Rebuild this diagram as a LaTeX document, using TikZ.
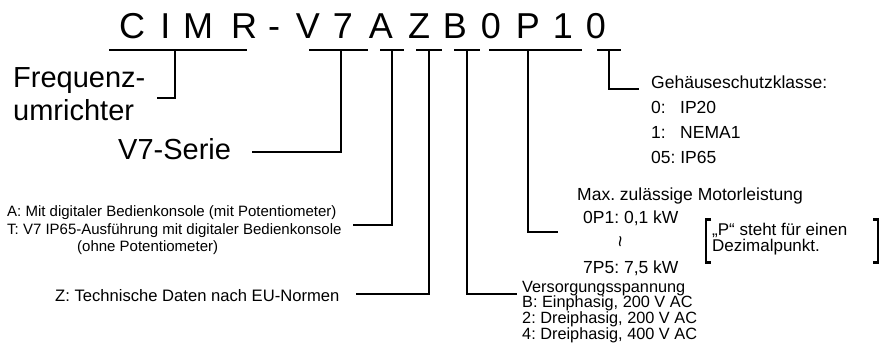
\documentclass[tikz,border=0pt]{standalone}
\usepackage{fontspec}
\setmainfont{Liberation Sans}
\frenchspacing
\begin{document}
\begin{tikzpicture}[x=1pt,y=-1pt,
  conn/.style={line width=2pt, line cap=rect, line join=miter},
  bar/.style={line width=2pt},
  code/.style={inner sep=0pt, anchor=base, font=\fontsize{36}{38}\selectfont},
  big/.style={inner sep=0pt, anchor=base west, font=\fontsize{29}{31}\selectfont},
  mid/.style={inner sep=0pt, anchor=base west, font=\fontsize{17.5}{19}\selectfont},
  sml/.style={inner sep=0pt, anchor=base west, font=\fontsize{15}{17}\selectfont},
  vs/.style={inner sep=0pt, anchor=base west, font=\fontsize{16.3}{18}\selectfont},
  brk/.style={line width=2.6pt, line join=miter}]
\useasboundingbox (0,0) rectangle (887,351);
% code letters
\foreach \c/\x [count=\i] in {C/132,I/165.5,M/198,R/244,-/274,V/308,7/343,A/381,Z/419,B/455,0/491,P/528,1/563,0/596}
  \node[code] (L\i) at (\x,38.5) {\c};
% underline segments
\coordinate (u1a) at (109,50); \coordinate (u1b) at (247,50);
\coordinate (u2a) at (309,50); \coordinate (u2b) at (368,50);
\coordinate (u3a) at (380,50); \coordinate (u3b) at (404,50);
\coordinate (u4a) at (416,50); \coordinate (u4b) at (442,50);
\coordinate (u5a) at (454,50); \coordinate (u5b) at (480,50);
\coordinate (u6a) at (489,50); \coordinate (u6b) at (582,50);
\coordinate (u7a) at (597,50); \coordinate (u7b) at (621,50);
\foreach \k in {1,...,7} \draw[bar] (u\k a) -- (u\k b);
% branch points
\coordinate (b1) at (175,50);
\coordinate (b2) at (341,50);
\coordinate (b3) at (392,50);
\coordinate (b4) at (429,50);
\coordinate (b5) at (467,50);
\coordinate (b6) at (528,50);
\coordinate (b7) at (609,50);
% connector ends
\coordinate (e1) at (158,98);
\coordinate (e2) at (253,152);
\coordinate (e3) at (354,225);
\coordinate (e4) at (357,294);
\coordinate (e5) at (516,294);
\coordinate (e6) at (557,232);
\coordinate (e7) at (638,89);
% texts
\node[big] (freq) at (13,87) {Frequenz-};
\node[big] (umr) at (13,120) {umrichter};
\node[big] (serie) at (118,159) {V7-Serie};
\node[sml] (ta) at (7,216.7) {A: Mit digitaler Bedienkonsole (mit Potentiometer)};
\node[sml] (tt) at (7,234) {T: V7 IP65-Ausführung mit digitaler Bedienkonsole};
\node[sml] (to) at (77,251.7) {(ohne Potentiometer)};
\node[inner sep=0pt, anchor=base west, font=\fontsize{16.6}{18}\selectfont] (tz) at (55,301.5) {Z: Technische Daten nach EU-Normen};
\node[vs] (vv) at (522,292) {Versorgungsspannung};
\node[vs] (vb) at (522,307.5) {B: Einphasig, 200 V AC};
\node[vs] (v2) at (522,323) {2: Dreiphasig, 200 V AC};
\node[vs] (v4) at (522,339) {4: Dreiphasig, 400 V AC};
\node[mid] (gh) at (651,88) {Gehäuseschutzklasse:};
\node[mid] (g0) at (651,113) {0:};
\node[mid] (g0v) at (680,113) {IP20};
\node[mid] (g1) at (651,138) {1:};
\node[mid] (g1v) at (680,138) {NEMA1};
\node[mid] (g5) at (651,163) {05: IP65};
\node[mid] (mx) at (577,200) {Max. zulässige Motorleistung};
\node[mid] (p1) at (583,223) {0P1: 0,1 kW};
\node[inner sep=0pt, rotate=90, font=\fontsize{20}{20}\selectfont] (sq) at (623,242) {\textasciitilde};
\node[mid] (p5) at (583,273) {7P5: 7,5 kW};
\node[inner sep=0pt, anchor=base west, font=\fontsize{17}{18}\selectfont] (n1) at (712,235) {„P“ steht für einen};
\node[inner sep=0pt, anchor=base west, font=\fontsize{17}{18}\selectfont] (n2) at (712,251) {Dezimalpunkt.};
% brackets
\draw[brk] (711,219.5) -- (706,219.5) -- (706,262.5) -- (711,262.5);
\draw[brk] (873,219.5) -- (878,219.5) -- (878,262.5) -- (873,262.5);
% connectors
\draw[conn] (b1) |- (e1);
\draw[conn] (b2) |- (e2);
\draw[conn] (b3) |- (e3);
\draw[conn] (b4) |- (e4);
\draw[conn] (b5) |- (e5);
\draw[conn] (b6) |- (e6);
\draw[conn] (b7) |- (e7);
\end{tikzpicture}
\end{document}
